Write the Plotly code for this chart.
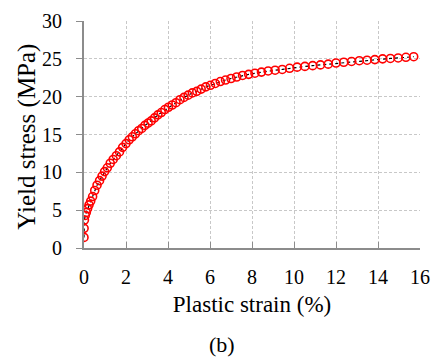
import plotly.graph_objects as go

strain = [0.0, 0.005, 0.02, 0.06, 0.11, 0.17, 0.24, 0.32, 0.41, 0.51, 0.62, 0.74, 0.86, 0.98,
          1.11, 1.25, 1.39, 1.54, 1.69, 1.84, 2.00, 2.15, 2.30, 2.45, 2.60, 2.75, 2.90, 3.05,
          3.20, 3.36, 3.52, 3.68, 3.85, 4.02, 4.20, 4.38, 4.57, 4.76, 4.96, 5.16, 5.37, 5.58,
          5.80, 6.02, 6.25, 6.49, 6.74, 7.00, 7.27, 7.55, 7.84, 8.14, 8.45, 8.77, 9.10, 9.44,
          9.79, 10.15, 10.52, 10.89, 11.26, 11.63, 12.00, 12.37, 12.74, 13.11, 13.48, 13.85,
          14.22, 14.59, 14.96, 15.33, 15.70]
stress = [1.4, 2.6, 3.7, 4.3, 4.7, 5.2, 5.7, 6.2, 6.8, 7.6, 8.3, 8.9, 9.5, 10.1,
          10.6, 11.2, 11.7, 12.2, 12.7, 13.3, 13.8, 14.3, 14.7, 15.1, 15.5, 15.8, 16.2, 16.5,
          16.8, 17.2, 17.6, 17.9, 18.3, 18.6, 18.9, 19.2, 19.6, 19.9, 20.2, 20.5, 20.7, 21.0,
          21.3, 21.5, 21.75, 22.0, 22.2, 22.4, 22.6, 22.8, 22.95, 23.1, 23.25, 23.4, 23.5, 23.6,
          23.75, 23.9, 24.0, 24.1, 24.2, 24.3, 24.45, 24.55, 24.65, 24.75, 24.82, 24.9,
          25.0, 25.05, 25.12, 25.2, 25.28]

x_ticks = [0, 2, 4, 6, 8, 10, 12, 14, 16]
y_ticks = [0, 5, 10, 15, 20, 25, 30]

font = "Liberation Serif, Times New Roman, serif"

fig = go.Figure()
fig.add_trace(go.Scatter(
    x=strain, y=stress, mode="lines",
    line=dict(color="black", width=1.2, dash="3px,3px"),
    showlegend=False, hoverinfo="skip"))
fig.add_trace(go.Scatter(
    x=strain, y=stress, mode="markers",
    marker=dict(symbol="circle-open", size=8, color="#ff0000",
                line=dict(color="#ff0000", width=1.6)),
    showlegend=False))

grid = dict(showgrid=True, gridcolor="#c8c8c8", griddash="3px,2px", gridwidth=1)
tickfont = dict(family=font, size=20, color="black")

fig.update_layout(
    width=440, height=359,
    margin=dict(l=84, r=10, t=20, b=111),
    paper_bgcolor="white", plot_bgcolor="white",
    font=dict(family=font, color="black"),
    xaxis=dict(range=[0, 16], tickvals=x_ticks, ticks="inside", ticklen=6,
               ticklabelstandoff=10, tickcolor="#8c8c8c", tickwidth=1,
               showline=True, linecolor="#8c8c8c", linewidth=1.5, zeroline=False,
               tickfont=tickfont,
               title=dict(text="Plastic strain (%)", font=dict(family=font, size=23), standoff=9),
               **grid),
    # label axis: invisible long ticks push labels away from the axis line
    yaxis=dict(range=[0, 30], tickvals=y_ticks, ticks="outside", ticklen=17,
               tickcolor="rgba(0,0,0,0)", tickwidth=1,
               showline=False, zeroline=False, tickfont=tickfont, **grid),
    # visible axis line and short ticks
    yaxis2=dict(range=[0, 30], tickvals=y_ticks, ticks="outside", ticklen=6,
                tickcolor="#8c8c8c", tickwidth=1, overlaying="y", side="left",
                showline=True, linecolor="#8c8c8c", linewidth=1.5, zeroline=False,
                showticklabels=False, showgrid=False),
    annotations=[
        dict(text="Yield stress (MPa)", xref="paper", yref="paper", x=-0.17, y=0.49,
             xanchor="center", yanchor="middle", textangle=-90, showarrow=False,
             font=dict(family=font, size=25, color="black")),
        dict(text="(b)", xref="paper", yref="paper", x=0.41, y=-0.425,
             xanchor="center", yanchor="middle", showarrow=False,
             font=dict(family=font, size=22, color="black")),
    ],
)
# empty trace on yaxis2 so that the overlay axis is drawn
fig.add_trace(go.Scatter(x=[], y=[], yaxis="y2", showlegend=False, hoverinfo="skip"))

fig.write_html("out.html")
